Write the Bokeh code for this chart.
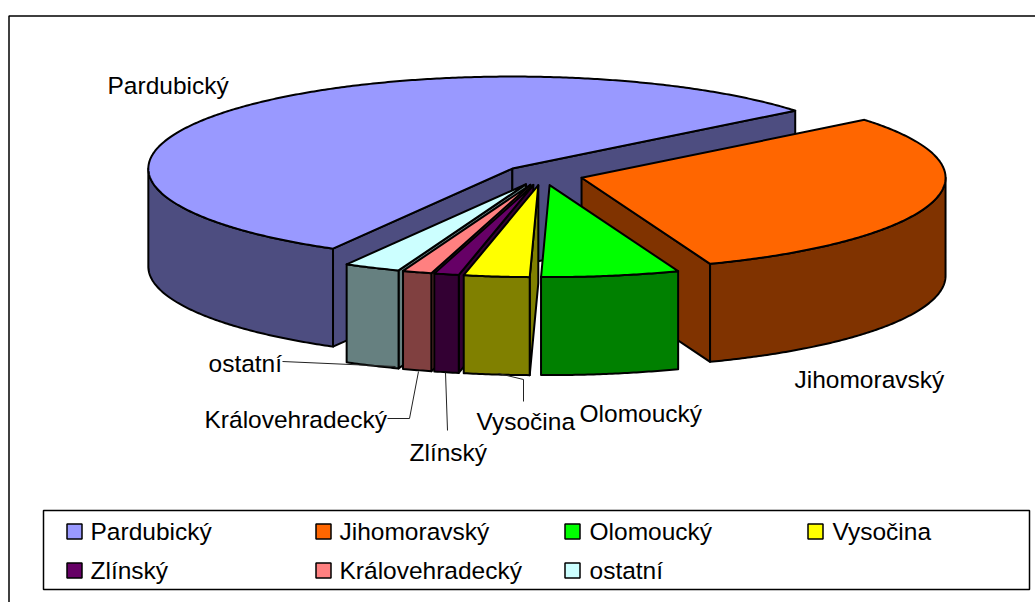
import numpy as np
from bokeh.plotting import figure
from bokeh.embed import file_html
from bokeh.resources import INLINE
from bokeh.core.properties import value

# --- data ---
regions = ["Pardubický", "Jihomoravský", "Olomoucký", "Vysočina", "Zlínský", "Královehradecký", "ostatní"]
shares = [55.8, 30.0, 6.1, 2.9, 1.1, 1.3, 2.5]
top_colors = ["#9999FF", "#FF6600", "#00FF00", "#FFFF00", "#660066", "#FF8080", "#CCFFFF"]
side_colors = ["#4D4D80", "#803300", "#008000", "#808000", "#330033", "#804040", "#668080"]

# --- layout constants (pixels) ---
W, H = 1035, 602
CX, CY = 542.4, 174.6
RX, RY = 364.0, 92.0
DEPTH = 98.0
EXPLODE = 0.11
FIRST_ANGLE = 51.0
FONT = value("Liberation Sans")
FS = "24.5px"

p = figure(width=W, height=H, x_range=(0, W), y_range=(H, 0), output_backend="svg",
           toolbar_location=None, min_border=0, outline_line_color=None,
           background_fill_color="white", border_fill_color="white")
p.axis.visible = False
p.grid.visible = False

# chart frame: only its left and top edges fall inside the window
p.line([8.5, 8.5, W], [H, 15.5, 15.5], line_color="black", line_width=1.5)


def pt(ax, ay, t):
    r = np.radians(t)
    return ax + RX * np.sin(r), ay - RY * np.cos(r)


def arc(ax, ay, a, b):
    ts = np.linspace(a, b, max(2, int(abs(b - a) * 2) + 2))
    xs, ys = pt(ax, ay, ts)
    return list(xs), list(ys)


total = sum(shares)
slices = []
angle = FIRST_ANGLE - shares[0] / total * 360
for name, share, top, side in zip(regions, shares, top_colors, side_colors):
    sweep = share / total * 360
    slices.append(dict(name=name, s=angle, e=angle + sweep, top=top, side=side))
    angle += sweep
for sl in slices:
    if sl["s"] < 0:
        sl["s"] += 360
        sl["e"] += 360

paint_order = [0, 1, 6, 5, 4, 3, 2]


def draw_patch(xs, ys, color):
    p.patch(xs, ys, fill_color=color, line_color="black", line_width=2, line_join="round")


for i in paint_order:
    sl = slices[i]
    s, e = sl["s"], sl["e"]
    mid = np.radians((s + e) / 2)
    ax = CX + EXPLODE * RX * np.sin(mid)
    ay = CY - EXPLODE * RY * np.cos(mid)
    for t, sign in ((s, -1), (e, 1)):
        if sign * np.sin(np.radians(t)) > 0:
            ex, ey = pt(ax, ay, t)
            draw_patch([ax, ex, ex, ax], [ay, ey, ey + DEPTH, ay + DEPTH], sl["side"])
    for k in (0, 1):
        a = max(s, 90 + 360 * k)
        b = min(e, 270 + 360 * k)
        if b > a:
            xs, ys = arc(ax, ay, a, b)
            draw_patch(xs + xs[::-1], ys + [y + DEPTH for y in ys[::-1]], sl["side"])
    xs, ys = arc(ax, ay, s, e)
    draw_patch([ax] + xs, [ay] + ys, sl["top"])

# leader lines
leaders = [
    ([282, 395], [361, 366]),
    ([387, 409, 418], [418, 418, 371]),
    ([445, 447], [372, 430]),
    ([498, 523, 523], [373, 379, 401]),
]
for lx, ly in leaders:
    p.line(lx, ly, line_color="#222222", line_width=1)

# data labels
lab_x = [107, 794, 579, 476, 409, 204, 208]
lab_y = [85, 379, 413, 421, 452, 419, 363]
p.text(lab_x, lab_y, text=regions, text_font=FONT, text_font_size=FS, text_color="black",
       text_align="left", text_baseline="middle")

# legend box
p.patch([43, 1029, 1029, 43], [510, 510, 589, 589], fill_color="white", line_color="black", line_width=1.5)
leg_sw_x = [74, 323, 572, 815, 74, 323, 572]
leg_tx_x = [90, 339, 589, 832, 90, 339, 589]
leg_y = [531, 531, 531, 531, 570, 570, 570]
p.rect(leg_sw_x, leg_y, width=15, height=15, fill_color=top_colors, line_color="black", line_width=1.5)
p.text(leg_tx_x, leg_y, text=regions, text_font=FONT, text_font_size=FS, text_color="black",
       text_align="left", text_baseline="middle")

open("out.html", "w").write(file_html(p, INLINE))
